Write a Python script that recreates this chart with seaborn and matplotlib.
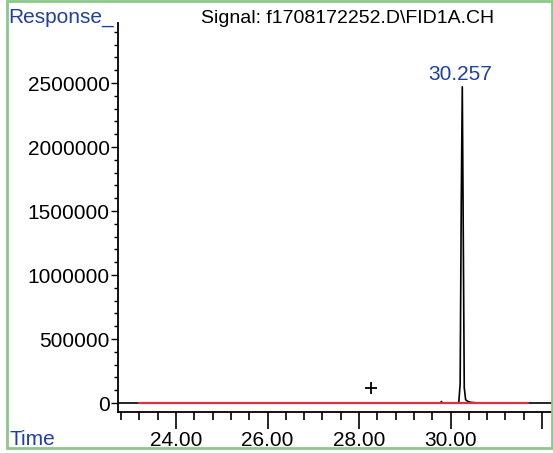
# Cromatograma FID - señal f1708172252

import numpy as np
import matplotlib
matplotlib.use("Agg")
import matplotlib.pyplot as plt
from matplotlib.patches import Rectangle
from matplotlib.ticker import MultipleLocator, FixedLocator
import seaborn as sns

#%% Datos

# traza del detector (tiempo en min, respuesta)
tiempo = [22.73, 23.20, 25.00, 27.00, 29.00, 29.78, 29.80, 29.82, 30.00, 30.18,
          30.21, 30.235, 30.257, 30.275, 30.30, 30.33, 30.38, 30.45, 30.60, 31.70, 32.30]
respuesta = [0, 0, 0, 0, 0, 0, 12000, 0, 0, 2000,
             150000, 1600000, 2470000, 1500000, 120000, 25000, 12000, 5000, 0, 0, 0]

# línea base integrada (roja)
base_tiempo = [23.20, 31.70]
base_resp = [0, 0]

# pico etiquetado
pico_rt = 30.257
pico_altura = 2470000
etiqueta_pico = "30.257"

# marcador de evento
marca_tiempo = 28.26
marca_resp = 117000

titulo = "Signal: f1708172252.D\\FID1A.CH"
x_ticks = [24, 26, 28, 30, 32]
x_ticklabels = ["24.00", "26.00", "28.00", "30.00", ""]
y_ticks = [0, 500000, 1000000, 1500000, 2000000, 2500000]

#%% Gráfico

sns.set_style("ticks")
plt.rcParams['font.family'] = ['Liberation Sans', 'DejaVu Sans']
plt.rcParams['text.color'] = 'black'
plt.rcParams['xtick.color'] = 'black'
plt.rcParams['ytick.color'] = 'black'
plt.rcParams['axes.edgecolor'] = 'black'
azul = "#1f3fa8"

fig = plt.figure(figsize=(5.53, 4.53), dpi=100)
ax = fig.add_axes([118/553, 41/453, 1 - 118/553, 389/453])

sns.lineplot(x=tiempo, y=respuesta, color="black", linewidth=1.2, ax=ax)
sns.lineplot(x=base_tiempo, y=base_resp, color="#e03040", linewidth=1.6, ax=ax)
ax.plot([marca_tiempo], [marca_resp], marker="+", color="black",
        markersize=9, markeredgewidth=1.3)

ax.text(pico_rt - 0.05, pico_altura + 20000, etiqueta_pico, color=azul,
        fontsize=15, ha="center", va="bottom")

ax.set_xlim(22.73, 32.24)
ax.set_ylim(-70300, 2968750)

ax.xaxis.set_major_locator(FixedLocator(x_ticks))
ax.set_xticklabels(x_ticklabels)
ax.xaxis.set_minor_locator(MultipleLocator(0.4))
ax.set_yticks(y_ticks)
ax.set_yticklabels([str(v) for v in y_ticks])
ax.yaxis.set_minor_locator(MultipleLocator(100000))

ax.tick_params(axis="x", which="major", length=12, width=1.2, labelsize=15, pad=2)
ax.tick_params(axis="x", which="minor", length=6, width=1.2)
ax.tick_params(axis="y", which="major", length=5, width=1, labelsize=15, pad=1)
ax.tick_params(axis="y", which="minor", length=3, width=1)

sns.despine(ax=ax)
ax.spines["left"].set_linewidth(1.3)
ax.spines["bottom"].set_linewidth(1.3)
ax.set_xlabel("")
ax.set_ylabel("")

fig.text(348/553, 1 - 23/453, titulo, fontsize=14, ha="center", va="baseline")
fig.text(8/553, 1 - 23/453, "Response_", fontsize=15, color=azul, va="baseline")
fig.text(10/553, 1 - 445/453, "Time", fontsize=15, color=azul, va="baseline")

fig.patches.append(Rectangle((7/553, 5/453), 545/553, 447/453, transform=fig.transFigure,
                             fill=False, edgecolor="#8cc88c", linewidth=2))

fig.savefig("out.png", dpi=100)
